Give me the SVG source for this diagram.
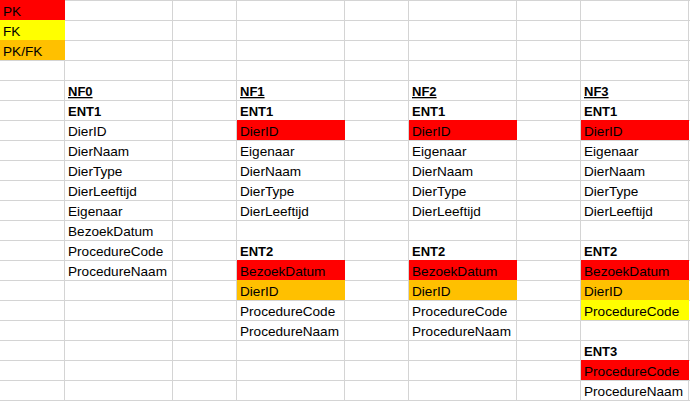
<svg xmlns="http://www.w3.org/2000/svg" width="690" height="401" viewBox="0 0 690 401">
  <style>
    .grid line { stroke: #d4d4d4; stroke-width: 1; }
    text { font-family: "Liberation Sans", Arial, sans-serif; font-size: 13.6px; fill: #000; }
    .b { font-weight: bold; font-size: 13px; }
    .u { text-decoration: underline; }
    .pk { fill: #ff0000; }
    .fk { fill: #ffff00; }
    .pkfk { fill: #ffc000; }
  </style>
  <rect width="690" height="401" fill="#ffffff"/>

  <!-- sheet gridlines -->
  <g class="grid" id="grid">
    <line x1="0" y1="0.5" x2="690" y2="0.5"/>
    <line x1="0" y1="20.5" x2="690" y2="20.5"/>
    <line x1="0" y1="40.5" x2="690" y2="40.5"/>
    <line x1="0" y1="60.5" x2="690" y2="60.5"/>
    <line x1="0" y1="80.5" x2="690" y2="80.5"/>
    <line x1="0" y1="100.5" x2="690" y2="100.5"/>
    <line x1="0" y1="120.5" x2="690" y2="120.5"/>
    <line x1="0" y1="140.5" x2="690" y2="140.5"/>
    <line x1="0" y1="160.5" x2="690" y2="160.5"/>
    <line x1="0" y1="180.5" x2="690" y2="180.5"/>
    <line x1="0" y1="200.5" x2="690" y2="200.5"/>
    <line x1="0" y1="220.5" x2="690" y2="220.5"/>
    <line x1="0" y1="240.5" x2="690" y2="240.5"/>
    <line x1="0" y1="260.5" x2="690" y2="260.5"/>
    <line x1="0" y1="280.5" x2="690" y2="280.5"/>
    <line x1="0" y1="300.5" x2="690" y2="300.5"/>
    <line x1="0" y1="320.5" x2="690" y2="320.5"/>
    <line x1="0" y1="340.5" x2="690" y2="340.5"/>
    <line x1="0" y1="360.5" x2="690" y2="360.5"/>
    <line x1="0" y1="380.5" x2="690" y2="380.5"/>
    <line x1="0" y1="400.5" x2="690" y2="400.5"/>
    <line x1="64.5" y1="0" x2="64.5" y2="401"/>
    <line x1="172.5" y1="0" x2="172.5" y2="401"/>
    <line x1="236.5" y1="0" x2="236.5" y2="401"/>
    <line x1="344.5" y1="0" x2="344.5" y2="401"/>
    <line x1="408.5" y1="0" x2="408.5" y2="401"/>
    <line x1="516.5" y1="0" x2="516.5" y2="401"/>
    <line x1="580.5" y1="0" x2="580.5" y2="401"/>
    <line x1="688.5" y1="0" x2="688.5" y2="401"/>
  </g>

  <!-- key colours -->
  <g id="legend">
    <rect class="pk" x="0" y="0" width="65" height="20"/>
    <rect class="fk" x="0" y="20" width="65" height="20"/>
    <rect class="pkfk" x="0" y="40" width="65" height="20"/>
    <text x="3" y="16">PK</text>
    <text x="3" y="36">FK</text>
    <text x="3" y="56">PK/FK</text>
  </g>

  <!-- NF0: one flat entity -->
  <g id="nf0">
    <text class="b u" x="68" y="96">NF0</text>
    <text class="b" x="68" y="116">ENT1</text>
    <text x="68" y="136">DierID</text>
    <text x="68" y="156">DierNaam</text>
    <text x="68" y="176">DierType</text>
    <text x="68" y="196">DierLeeftijd</text>
    <text x="68" y="216">Eigenaar</text>
    <text x="68" y="236">BezoekDatum</text>
    <text x="68" y="256">ProcedureCode</text>
    <text x="68" y="276">ProcedureNaam</text>
  </g>

  <!-- NF1 -->
  <g id="nf1">
    <rect class="pk" x="237" y="120" width="108" height="20"/>
    <rect class="pk" x="237" y="260" width="108" height="20"/>
    <rect class="pkfk" x="237" y="280" width="108" height="20"/>
    <text class="b u" x="240" y="96">NF1</text>
    <text class="b" x="240" y="116">ENT1</text>
    <text x="240" y="136">DierID</text>
    <text x="240" y="156">Eigenaar</text>
    <text x="240" y="176">DierNaam</text>
    <text x="240" y="196">DierType</text>
    <text x="240" y="216">DierLeeftijd</text>
    <text class="b" x="240" y="256">ENT2</text>
    <text x="240" y="276">BezoekDatum</text>
    <text x="240" y="296">DierID</text>
    <text x="240" y="316">ProcedureCode</text>
    <text x="240" y="336">ProcedureNaam</text>
  </g>

  <!-- NF2 -->
  <g id="nf2">
    <rect class="pk" x="409" y="120" width="108" height="20"/>
    <rect class="pk" x="409" y="260" width="108" height="20"/>
    <rect class="pkfk" x="409" y="280" width="108" height="20"/>
    <text class="b u" x="412" y="96">NF2</text>
    <text class="b" x="412" y="116">ENT1</text>
    <text x="412" y="136">DierID</text>
    <text x="412" y="156">Eigenaar</text>
    <text x="412" y="176">DierNaam</text>
    <text x="412" y="196">DierType</text>
    <text x="412" y="216">DierLeeftijd</text>
    <text class="b" x="412" y="256">ENT2</text>
    <text x="412" y="276">BezoekDatum</text>
    <text x="412" y="296">DierID</text>
    <text x="412" y="316">ProcedureCode</text>
    <text x="412" y="336">ProcedureNaam</text>
  </g>

  <!-- NF3 -->
  <g id="nf3">
    <rect class="pk" x="581" y="120" width="108" height="20"/>
    <rect class="pk" x="581" y="260" width="108" height="20"/>
    <rect class="pkfk" x="581" y="280" width="108" height="20"/>
    <rect class="fk" x="581" y="300" width="108" height="20"/>
    <rect class="pk" x="581" y="360" width="108" height="20"/>
    <text class="b u" x="584" y="96">NF3</text>
    <text class="b" x="584" y="116">ENT1</text>
    <text x="584" y="136">DierID</text>
    <text x="584" y="156">Eigenaar</text>
    <text x="584" y="176">DierNaam</text>
    <text x="584" y="196">DierType</text>
    <text x="584" y="216">DierLeeftijd</text>
    <text class="b" x="584" y="256">ENT2</text>
    <text x="584" y="276">BezoekDatum</text>
    <text x="584" y="296">DierID</text>
    <text x="584" y="316">ProcedureCode</text>
    <text class="b" x="584" y="356">ENT3</text>
    <text x="584" y="376">ProcedureCode</text>
    <text x="584" y="396">ProcedureNaam</text>
  </g>
</svg>
